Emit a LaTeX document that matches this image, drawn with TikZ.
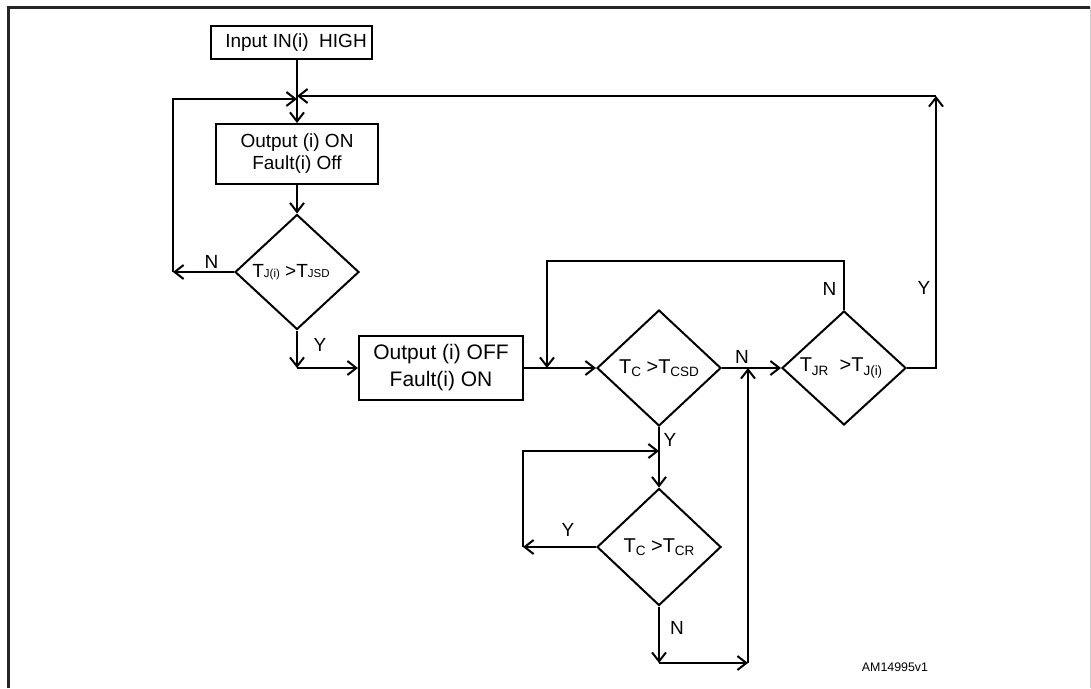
\documentclass[tikz,border=0pt]{standalone}
\usepackage{fontspec}
\setmainfont{Liberation Sans}
\usetikzlibrary{arrows.meta,shapes.geometric}
\newcommand{\lowsub}[1]{\raisebox{-0.3ex}{\fontsize{13.5}{14}\selectfont #1}}
\newcommand{\basesub}[1]{{\fontsize{11.5}{12}\selectfont #1}}
\begin{document}
\begin{tikzpicture}[x=1pt,y=-1pt,
  line width=2pt,
  ar/.style={-{Straight Barb[length=9pt,width=14pt]}},
  txt/.style={font=\fontsize{19}{22}\selectfont},
  box/.style={draw, rectangle, inner sep=0pt, align=center, txt},
  dec/.style={draw, diamond, inner sep=0pt, font=\fontsize{20}{22}\selectfont, minimum width=124pt},
  lbl/.style={txt, inner sep=0pt}
]
\useasboundingbox (0,0) rectangle (1091,688);
% frame
\draw[line width=3pt, black!85] (8,688) -- (8,7) -- (1090,7);
\draw[line width=1pt, black!20] (1090,7) -- (1090,688);

% nodes
\node[box, minimum width=161pt, minimum height=33pt] (in) at (291.5,42.5) {\hspace*{9pt}Input IN(i)\ \ HIGH};
\node[box, minimum width=162pt, minimum height=60pt] (on) at (297,154) {Output (i) ON\\Fault(i) Off};
\node[box, minimum width=164pt, minimum height=64pt, font=\fontsize{21}{27}\selectfont] (off) at (441,368) {Output (i) OFF\\Fault(i) ON};
\node[dec, minimum height=115pt, font=\fontsize{19}{22}\selectfont] (d1) at (297,272) {T\basesub{J(i)} >T\basesub{JSD}\hspace*{12pt}};
\node[dec, minimum height=116pt] (d2) at (659,368) {T\lowsub{C} >T\lowsub{CSD}};
\node[dec, minimum height=114pt] (d3) at (844,368) {T\lowsub{JR}\ \ >T\lowsub{J(i)}\hspace*{6pt}};
\node[dec, minimum height=117pt] (d4) at (659,547) {T\lowsub{C} >T\lowsub{CR}};

% coordinates
\coordinate (jl) at (297,99);
\coordinate (jr) at (297,96);
\coordinate (nl) at (173,272);
\coordinate (nt) at (173,99);
\coordinate (yc) at (297,368);
\coordinate (yr) at (936,368);
\coordinate (yt) at (936,96);
\coordinate (t1) at (844,261);
\coordinate (t2) at (547,261);
\coordinate (t3) at (547,368);
\coordinate (l1) at (523,451);
\coordinate (l2) at (523,547);
\coordinate (l3) at (659,451);
\coordinate (b1) at (659,663);
\coordinate (b2) at (748,663);
\coordinate (b3) at (748,368);

% connectors
\draw[ar] (in.south -| d1.north) -- (on.north -| d1.north);
\draw[ar] (on.south -| d1.north) -- (d1.north);
\draw[ar] (d1.west) -- (nl);
\draw[ar] (nl) -- (nt) -- (jl);
\draw[ar] (d1.south) -- (yc);
\draw[ar] (yc) -- (off.west);
\draw[ar] (off.east) -- (d2.west);
\draw[ar] (d3.north) -- (t1) -- (t2) -- (t3);
\draw[ar] (d2.east) -- (d3.west);
\draw[ar] (d3.east) -- (yr) -- (yt);
\draw[ar] (yt) -- (jr);
\draw[ar] (d2.south) -- (d4.north);
\draw[ar] (d4.west) -- (l2);
\draw[ar] (l2) -- (l1) -- (l3);
\draw[ar] (d4.south) -- (b1);
\draw[ar] (b1) -- (b2);
\draw[ar] (b2) -- (b3);

% labels
\node[lbl] (lN1) at (211.5,261.5) {N};
\node[lbl] (lY1) at (320,345) {Y};
\node[lbl] (lN2) at (829.5,288.5) {N};
\node[lbl] (lN3) at (742,357) {N};
\node[lbl] (lY2) at (924,288) {Y};
\node[lbl] (lY3) at (670,440) {Y};
\node[lbl] (lY4) at (568,530) {Y};
\node[lbl] (lN4) at (677,628) {N};
\node[inner sep=0pt, font=\fontsize{12.4}{14}\selectfont] (id) at (895,667) {AM14995v1};
\end{tikzpicture}
\end{document}
